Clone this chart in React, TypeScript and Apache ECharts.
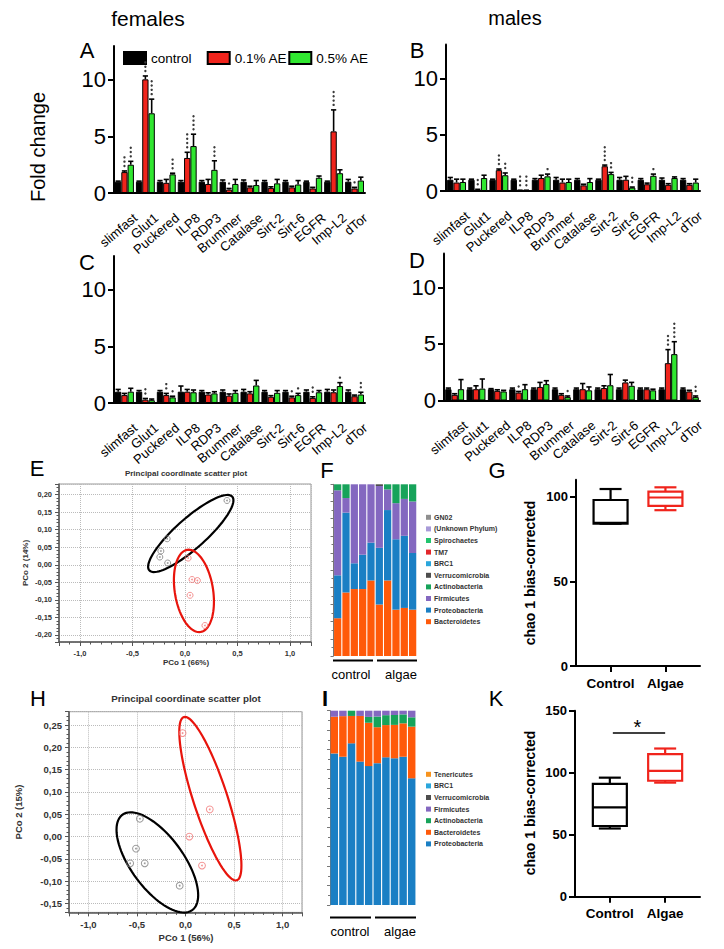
import React, { useEffect, useRef } from 'react';
import * as echarts from 'echarts';

const FONT = '"Liberation Sans", Arial, Helvetica, sans-serif';

// ---------- Panels A–D : fold change ----------
const genes = ['slimfast', 'Glut1', 'Puckered', 'ILP8', 'RDP3', 'Brummer', 'Catalase', 'Sirt-2', 'Sirt-6', 'EGFR', 'Imp-L2', 'dTor'];
const treatments = ['control', '0.1% AE', '0.5% AE'];
const foldTicks = [0, 5, 10];

// A: females, top
const aCtrl = [1, 1, 1, 1, 1, 1, 1, 1, 1, 1, 1, 1];
const aCtrlErr = [0.05, 0.05, 0.1, 0.1, 0.1, 0.15, 0.15, 0.1, 0.1, 0.05, 0.05, 0.2];
const aLow = [1.85, 10.05, 0.9, 3.1, 0.8, 0.3, 0.5, 0.45, 0.5, 0.4, 5.45, 0.4];
const aLowErr = [0.1, 0.3, 0.3, 0.5, 0.4, 0.1, 0.1, 0.1, 0.1, 0.1, 1.9, 0.1];
const aLowStars = [3, 3, 0, 4, 0, 1, 0, 0, 0, 0, 4, 1];
const aHigh = [2.5, 7.05, 1.65, 4.15, 2.05, 0.8, 0.7, 0.85, 0.75, 1.35, 1.75, 1.1];
const aHighErr = [0.3, 1.25, 0.1, 1.05, 0.8, 0.4, 0.4, 0.35, 0.35, 0.15, 0.3, 0.3];
const aHighStars = [3, 4, 3, 4, 3, 0, 0, 0, 0, 0, 0, 0];

// B: males, top
const bCtrl = [1, 1, 1, 1, 1, 1, 1, 1, 1, 1, 1, 1];
const bCtrlErr = [0.2, 0.05, 0.05, 0.05, 0.1, 0.2, 0.1, 0.05, 0.2, 0.1, 0.15, 0.1];
const bLow = [0.75, 0.1, 1.85, 0.05, 1.15, 0.75, 0.5, 2.2, 1.0, 0.6, 0.55, 0.55];
const bLowErr = [0.3, 0.05, 0.1, 0.02, 0.25, 0.3, 0.1, 0.1, 0.3, 0.1, 0.1, 0.1];
const bLowStars = [0, 2, 3, 3, 0, 0, 0, 4, 0, 0, 0, 0];
const bHigh = [0.8, 1.15, 1.4, 0.05, 1.3, 0.8, 0.8, 1.5, 0.3, 1.35, 1.15, 0.75];
const bHighErr = [0.25, 0.25, 0.2, 0.02, 0.2, 0.25, 0.3, 0.15, 0.05, 0.15, 0.1, 0.3];
const bHighStars = [0, 0, 2, 3, 1, 0, 0, 2, 2, 1, 0, 0];

// C: females, bottom
const cCtrl = [1, 1, 1, 1, 1, 1, 1, 1, 1, 1, 1, 1];
const cCtrlErr = [0.2, 0.1, 0.1, 0.5, 0.1, 0.15, 0.2, 0.1, 0.1, 0.15, 0.2, 0.15];
const cLow = [0.7, 0.3, 0.7, 1.0, 0.75, 0.65, 0.85, 0.55, 0.5, 0.45, 0.95, 0.6];
const cLowErr = [0.15, 0.1, 0.15, 0.2, 0.15, 0.15, 0.15, 0.1, 0.1, 0.1, 0.2, 0.1];
const cLowStars = [0, 2, 2, 0, 0, 0, 0, 0, 1, 2, 0, 0];
const cHigh = [1.0, 0.25, 0.5, 0.95, 0.85, 0.9, 1.55, 0.9, 0.7, 0.95, 1.5, 0.75];
const cHighErr = [0.3, 0.1, 0.1, 0.2, 0.15, 0.2, 0.45, 0.2, 0.15, 0.15, 0.3, 0.2];
const cHighStars = [0, 0, 1, 0, 0, 0, 0, 0, 1, 0, 1, 2];

// D: males, bottom
const dCtrl = [1, 1, 1, 1, 1, 1, 1, 1, 1, 1, 1, 1];
const dCtrlErr = [0.1, 0.1, 0.05, 0.1, 0.1, 0.1, 0.1, 0.1, 0.1, 0.1, 0.1, 0.1];
const dLow = [0.5, 1.0, 0.85, 0.7, 1.2, 0.5, 1.0, 1.1, 1.6, 1.0, 3.3, 0.8];
const dLowErr = [0.1, 0.3, 0.1, 0.1, 0.4, 0.1, 0.5, 0.2, 0.2, 0.1, 1.2, 0.1];
const dLowStars = [0, 0, 0, 1, 0, 0, 0, 0, 0, 0, 3, 0];
const dHigh = [1.0, 1.05, 0.8, 1.0, 1.45, 0.3, 0.9, 1.35, 1.3, 0.9, 4.1, 0.3];
const dHighErr = [0.85, 0.85, 0.1, 0.4, 0.3, 0.1, 0.3, 0.95, 0.3, 0.1, 1.1, 0.1];
const dHighStars = [0, 0, 0, 0, 0, 1, 0, 0, 0, 0, 4, 2];

// ---------- E / H : PCoA ----------
const eControl = [[0.4, 0.183], [-0.17, 0.074], [-0.23, 0.039], [-0.24, 0.022], [-0.165, 0.005]];
const eAlgae = [[0.03, 0.019], [0.067, -0.042], [0.118, -0.045], [0.048, -0.087], [0.19, -0.173]];
// ellipse: centre x, centre y, semi-axis 1 (dx, dy), semi-axis 2 (dx, dy)
const eControlEllipse = [0.055, 0.089, 0.395, 0.105, 0.095, -0.032];
const eAlgaeEllipse = [0.085, -0.0745, -0.063, 0.117, 0.18, 0.0085];

const hControl = [[-0.47, 0.04], [-0.51, -0.027], [-0.57, -0.06], [-0.42, -0.06], [-0.06, -0.11]];
const hAlgae = [[-0.03, 0.232], [0.25, 0.061], [0.04, 0.0], [0.17, -0.065]];
const hControlEllipse = [-0.29, -0.058, 0.37, -0.105, 0.2, 0.04];
const hAlgaeEllipse = [0.256, 0.085, -0.273, 0.183, 0.167, 0.0119];

// ---------- F / I : relative abundance (%) ----------
const samples = ['C1', 'C2', 'C3', 'C4', 'C5', 'A1', 'A2', 'A3', 'A4', 'A5'];
const fBacteroidetes = [22, 37, 39, 39, 44, 30, 44, 27, 28, 27];
const fProteobacteria = [25, 46.5, 15, 20, 22, 33, 41, 41, 42, 33];
const fFirmicutes = [49.5, 8.5, 46, 41, 34, 36, 12, 21, 21.5, 30];
const fActinobacteria = [3.5, 8, 0, 0, 0, 0, 3, 11, 8.5, 10];
const fVerrucomicrobia = [0, 0, 0, 0, 0, 1, 0, 0, 0, 0];
const fBRC1 = [0, 0, 0, 0, 0, 0, 0, 0, 0, 0];
const fTM7 = [0, 0, 0, 0, 0, 0, 0, 0, 0, 0];
const fSpirochaetes = [0, 0, 0, 0, 0, 0, 0, 0, 0, 0];
const fUnknown = [0, 0, 0, 0, 0, 0, 0, 0, 0, 0];
const fGN02 = [0, 0, 0, 0, 0, 0, 0, 0, 0, 0];

const iProteobacteria = [78, 76.3, 83.2, 73.8, 71.5, 73, 76, 75.5, 76.3, 65.2];
const iBacteroidetes = [18.9, 20.9, 14.1, 23.5, 22.3, 18.5, 16.6, 17.2, 17.2, 26.6];
const iActinobacteria = [0, 0, 2.7, 0, 3, 5.5, 5.1, 5.1, 4.6, 4.8];
const iFirmicutes = [3.1, 2.8, 0, 2.7, 3.2, 3, 2.3, 2.2, 1.9, 3.4];
const iVerrucomicrobia = [0, 0, 0, 0, 0, 0, 0, 0, 0, 0];
const iBRC1 = [0, 0, 0, 0, 0, 0, 0, 0, 0, 0];
const iTenericutes = [0, 0, 0, 0, 0, 0, 0, 0, 0, 0];

// ---------- G / K : chao1 box plots [min, Q1, median, Q3, max] ----------
const boxGroups = ['Control', 'Algae'];
const gControl = [84, 84, 84.5, 98, 104.5];
const gAlgae = [92, 94.5, 99.5, 103, 105.5];
const kControl = [55, 57, 72, 91, 96];
const kAlgae = [92, 93.5, 101.5, 115, 119.5];
const gTicks = [0, 50, 100];
const kTicks = [0, 50, 100, 150];
const kSignificance = [[0, 1, 132]];

const RED = '#f0241c';
const GREEN = '#30e630';
const COL: Record<string, string> = {
  Bacteroidetes: '#ff5a0a',
  Proteobacteria: '#1a7fc4',
  Firmicutes: '#8468c0',
  Actinobacteria: '#17a35a',
  Verrucomicrobia: '#4d4d4d',
  BRC1: '#2aa6dc',
  TM7: '#e3262b',
  Spirochaetes: '#22c46e',
  '(Unknown Phylum)': '#a89ad8',
  GN02: '#8f8f8f',
  Tenericutes: '#f7931e',
};

const BW = 6.3;

function errSeries(g: number, means: number[], errs: number[], stars: number[], k: number) {
  return {
    type: 'custom', xAxisIndex: g, yAxisIndex: g, z: 5, silent: true, clip: false,
    encode: { x: 0, y: 1 },
    data: means.map((m, i) => [i, m, errs[i], stars[i]]),
    renderItem: (_p: any, api: any) => {
      const i = api.value(0), m = api.value(1), e = api.value(2), s = api.value(3);
      const p0 = api.coord([i, m]);
      const p1 = api.coord([i, m + e]);
      const x = p0[0] + (k - 1) * BW;
      const ch: any[] = [
        { type: 'line', shape: { x1: x, y1: p0[1], x2: x, y2: p1[1] }, style: { stroke: '#000', lineWidth: 1.6 } },
        { type: 'line', shape: { x1: x - 2.6, y1: p1[1], x2: x + 2.6, y2: p1[1] }, style: { stroke: '#000', lineWidth: 1.6 } },
      ];
      for (let j = 0; j < s; j++) {
        ch.push({ type: 'circle', shape: { cx: x, cy: p1[1] - 5 - j * 4.3, r: 1.2 }, style: { fill: '#3a3a3a' } });
      }
      return { type: 'group', children: ch };
    },
  };
}

function geneLabelSeries(g: number) {
  return {
    type: 'custom', xAxisIndex: g, yAxisIndex: g, z: 5, silent: true, clip: false,
    encode: { x: 0, y: 1 },
    data: genes.map((_n, i) => [i, 0]),
    renderItem: (p: any, api: any) => {
      const pt = api.coord([api.value(0), 0]);
      return {
        type: 'text', x: pt[0] + 11, y: pt[1] + 23, rotation: (40 * Math.PI) / 180,
        style: { text: genes[p.dataIndex], fontSize: 13, fontFamily: FONT, fill: '#000', align: 'right', verticalAlign: 'middle', textAlign: 'right', textVerticalAlign: 'middle' },
      };
    },
  };
}

function foldPanel(g: number, ctrl: number[], ctrlErr: number[], low: number[], lowErr: number[], lowStars: number[], high: number[], highErr: number[], highStars: number[]) {
  const zeros = genes.map(() => 0);
  const cols = ['#000', RED, GREEN];
  const means = [ctrl, low, high];
  const errs = [ctrlErr, lowErr, highErr];
  const stars = [zeros, lowStars, highStars];
  const out: any[] = [];
  for (let k = 0; k < 3; k++) {
    out.push({
      type: 'bar', name: treatments[k], xAxisIndex: g, yAxisIndex: g, data: means[k], barWidth: BW, barGap: '0%', z: 2,
      itemStyle: { color: cols[k], borderColor: '#000', borderWidth: 1 },
    });
  }
  for (let k = 0; k < 3; k++) out.push(errSeries(g, means[k], errs[k], stars[k], k));
  out.push(geneLabelSeries(g));
  return out;
}

function ellipseSeries(g: number, el: number[], color: string) {
  return {
    type: 'custom', xAxisIndex: g, yAxisIndex: g, z: 4, silent: true, clip: false,
    encode: { x: 0, y: 1 },
    data: [el],
    renderItem: (_p: any, api: any) => {
      const cx = api.value(0), cy = api.value(1);
      const ax = api.value(2), ay = api.value(3), bx = api.value(4), by = api.value(5);
      const c = api.coord([cx, cy]);
      const pa = api.coord([cx + ax, cy + ay]);
      const pb = api.coord([cx + bx, cy + by]);
      const va = [pa[0] - c[0], pa[1] - c[1]];
      const vb = [pb[0] - c[0], pb[1] - c[1]];
      const pts: number[][] = [];
      for (let j = 0; j <= 90; j++) {
        const t = (j / 90) * Math.PI * 2;
        pts.push([c[0] + va[0] * Math.cos(t) + vb[0] * Math.sin(t), c[1] + va[1] * Math.cos(t) + vb[1] * Math.sin(t)]);
      }
      return { type: 'polygon', shape: { points: pts }, style: { fill: 'none', stroke: color, lineWidth: 2.2 } };
    },
  };
}

function pointSeries(g: number, pts: number[][], color: string, size: number) {
  return [
    { type: 'scatter', xAxisIndex: g, yAxisIndex: g, data: pts, symbol: 'circle', symbolSize: size, z: 5, silent: true,
      itemStyle: { color: 'rgba(255,255,255,0)', borderColor: color, borderWidth: 1 } },
    { type: 'scatter', xAxisIndex: g, yAxisIndex: g, data: pts, symbol: 'circle', symbolSize: 1.8, z: 6, silent: true,
      itemStyle: { color } },
  ];
}

function boxSeries(g: number, x: number, vals: number[], color: string) {
  return {
    type: 'custom', xAxisIndex: g, yAxisIndex: g, z: 4, silent: true, clip: false,
    encode: { x: 0, y: 3 },
    data: [[x, ...vals]],
    renderItem: (_p: any, api: any) => {
      const xv = api.value(0);
      const c = (v: number) => api.coord([xv, v]);
      const pmin = c(api.value(1)), pq1 = c(api.value(2)), pmed = c(api.value(3)), pq3 = c(api.value(4)), pmax = c(api.value(5));
      const cx = pmin[0], hw = 17, cw = 11;
      const st = { stroke: color, lineWidth: 2.2, fill: 'none' };
      return {
        type: 'group', children: [
          { type: 'rect', shape: { x: cx - hw, y: pq3[1], width: hw * 2, height: pq1[1] - pq3[1] }, style: st },
          { type: 'line', shape: { x1: cx - hw, y1: pmed[1], x2: cx + hw, y2: pmed[1] }, style: st },
          { type: 'line', shape: { x1: cx, y1: pq3[1], x2: cx, y2: pmax[1] }, style: st },
          { type: 'line', shape: { x1: cx, y1: pq1[1], x2: cx, y2: pmin[1] }, style: st },
          { type: 'line', shape: { x1: cx - cw, y1: pmax[1], x2: cx + cw, y2: pmax[1] }, style: st },
          { type: 'line', shape: { x1: cx - cw, y1: pmin[1], x2: cx + cw, y2: pmin[1] }, style: st },
        ],
      };
    },
  };
}

function foldAxes(g: number) {
  return {
    x: {
      type: 'category', gridIndex: g, data: genes,
      axisLine: { lineStyle: { color: '#000', width: 2 } },
      axisTick: { alignWithLabel: true, length: 5, lineStyle: { color: '#000', width: 1.6 } },
      axisLabel: { show: false },
    },
    y: {
      type: 'value', gridIndex: g, min: 0, max: 13,
      axisLine: { show: true, lineStyle: { color: '#000', width: 2 } },
      axisTick: { show: true, length: 6, customValues: foldTicks, lineStyle: { color: '#000', width: 2 } },
      axisLabel: { customValues: foldTicks, fontSize: 22, color: '#000', margin: 8, fontFamily: FONT },
      splitLine: { show: false },
    },
  };
}

const comma = (d: number) => (v: number) => v.toFixed(d).replace('.', ',');

function pcoAxes(g: number, yMin: number, yMax: number, fs: number) {
  return {
    x: {
      type: 'value', gridIndex: g, min: -1.2, max: 1.2, minInterval: 0.5, maxInterval: 0.5,
      axisLine: { show: true, onZero: false, lineStyle: { color: '#555', width: 1.5 } },
      axisTick: { show: true, length: 4, lineStyle: { color: '#555' } },
      minorTick: { show: true, splitNumber: 5, length: 2.5, lineStyle: { color: '#555' } },
      axisLabel: { formatter: comma(1), fontSize: fs, fontWeight: 'bold', color: '#333', showMinLabel: false, showMaxLabel: false, margin: 7, fontFamily: FONT },
      splitLine: { show: true, lineStyle: { type: 'dotted', color: '#bbb' } },
    },
    y: {
      type: 'value', gridIndex: g, min: yMin, max: yMax, minInterval: 0.05, maxInterval: 0.05,
      axisLine: { show: true, onZero: false, lineStyle: { color: '#555', width: 1.5 } },
      axisTick: { show: true, length: 4, lineStyle: { color: '#555' } },
      minorTick: { show: true, splitNumber: 5, length: 2.5, lineStyle: { color: '#555' } },
      axisLabel: { formatter: comma(2), fontSize: fs, fontWeight: 'bold', color: '#333', showMinLabel: false, showMaxLabel: false, margin: 7, fontFamily: FONT },
      splitLine: { show: true, lineStyle: { type: 'dotted', color: '#bbb' } },
    },
  };
}

function stackAxes(g: number) {
  return {
    x: { type: 'category', gridIndex: g, data: samples, axisLine: { show: false }, axisTick: { show: false }, axisLabel: { show: false } },
    y: {
      type: 'value', gridIndex: g, min: 0, max: 100, interval: 10,
      axisLine: { show: true, lineStyle: { color: '#777', width: 1 } },
      axisTick: { show: true, length: 3, lineStyle: { color: '#777' } },
      minorTick: { show: true, splitNumber: 2, length: 2, lineStyle: { color: '#777' } },
      axisLabel: { show: false }, splitLine: { show: false },
    },
  };
}

function stackSeries(g: number, stack: string, layers: [string, number[]][]) {
  return layers.map(([name, vals]) => ({
    type: 'bar', name, stack, xAxisIndex: g, yAxisIndex: g, data: vals, barCategoryGap: '13%', silent: true,
    itemStyle: { color: COL[name] },
  }));
}

function boxAxes(g: number, max: number, ticks: number[]) {
  return {
    x: {
      type: 'value', gridIndex: g, min: -0.63, max: 1.63,
      axisLine: { show: true, onZero: false, lineStyle: { color: '#000', width: 2 } },
      axisTick: { show: true, customValues: [0, 1], length: 6, lineStyle: { color: '#000', width: 2 } },
      axisLabel: { customValues: [0, 1], formatter: (v: number) => boxGroups[Math.round(v)], fontSize: 13.5, fontWeight: 'bold', color: '#000', margin: 10, fontFamily: FONT },
      splitLine: { show: false },
    },
    y: {
      type: 'value', gridIndex: g, min: 0, max,
      axisLine: { show: true, onZero: false, lineStyle: { color: '#000', width: 2 } },
      axisTick: { show: true, customValues: ticks, length: 6, lineStyle: { color: '#000', width: 2 } },
      axisLabel: { customValues: ticks, fontSize: 13, fontWeight: 'bold', color: '#000', margin: 8, fontFamily: FONT },
      splitLine: { show: false },
    },
  };
}

const T = (text: string, x: number, y: number, size: number, extra: any = {}, rotation = 0) => ({
  type: 'text', x, y, rotation, silent: true,
  style: { text, fontSize: size, fontFamily: FONT, fill: '#000', align: 'center', verticalAlign: 'middle', textAlign: 'center', textVerticalAlign: 'middle', ...extra },
});
const L = (x1: number, y1: number, x2: number, y2: number, w = 2) => ({
  type: 'line', silent: true, shape: { x1, y1, x2, y2 }, style: { stroke: '#000', lineWidth: w },
});

export default function App() {
  const ref = useRef<HTMLDivElement>(null);
  useEffect(() => {
    if (!ref.current) return;
    const chart = echarts.init(ref.current, undefined, { renderer: 'svg' });

    const grids = [
      { left: 114, top: 46, width: 251, height: 147 },      // 0 A
      { left: 446, top: 44.5, width: 254, height: 146.5 },  // 1 B
      { left: 114, top: 256, width: 251, height: 147 },     // 2 C
      { left: 444, top: 253.5, width: 256, height: 147 },   // 3 D
      { left: 59, top: 484, width: 252, height: 158, show: true, borderColor: '#999', borderWidth: 1, backgroundColor: 'transparent' }, // 4 E
      { left: 333.5, top: 484.3, width: 83.3, height: 171.7 }, // 5 F
      { left: 576, top: 479.7, width: 124, height: 186.3 },    // 6 G
      { left: 69, top: 711.7, width: 233, height: 200.7, show: true, borderColor: '#999', borderWidth: 1, backgroundColor: 'transparent' }, // 7 H
      { left: 330, top: 710.7, width: 86, height: 194.3 },     // 8 I
      { left: 575, top: 710.7, width: 125, height: 186 },      // 9 K
    ];

    const fa = [0, 1, 2, 3].map(foldAxes);
    const pe = pcoAxes(4, -0.22, 0.23, 7.5);
    const ph = pcoAxes(7, -0.17, 0.28, 9.5);
    const sf = stackAxes(5);
    const si = stackAxes(8);
    const bg = boxAxes(6, 110, gTicks);
    const bk = boxAxes(9, 150, kTicks);

    const xAxis = [fa[0].x, fa[1].x, fa[2].x, fa[3].x, pe.x, sf.x, bg.x, ph.x, si.x, bk.x];
    const yAxis = [fa[0].y, fa[1].y, fa[2].y, fa[3].y, pe.y, sf.y, bg.y, ph.y, si.y, bk.y];

    const fLayers: [string, number[]][] = [
      ['Bacteroidetes', fBacteroidetes], ['Proteobacteria', fProteobacteria], ['Firmicutes', fFirmicutes],
      ['Actinobacteria', fActinobacteria], ['Verrucomicrobia', fVerrucomicrobia], ['BRC1', fBRC1], ['TM7', fTM7],
      ['Spirochaetes', fSpirochaetes], ['(Unknown Phylum)', fUnknown], ['GN02', fGN02],
    ];
    const iLayers: [string, number[]][] = [
      ['Proteobacteria', iProteobacteria], ['Bacteroidetes', iBacteroidetes], ['Actinobacteria', iActinobacteria],
      ['Firmicutes', iFirmicutes], ['Verrucomicrobia', iVerrucomicrobia], ['BRC1', iBRC1], ['Tenericutes', iTenericutes],
    ];

    const sigSeries = {
      type: 'custom', xAxisIndex: 9, yAxisIndex: 9, z: 4, silent: true, clip: false,
      encode: { x: 0, y: 2 },
      data: kSignificance,
      renderItem: (_p: any, api: any) => {
        const a = api.coord([api.value(0), api.value(2)]);
        const b = api.coord([api.value(1), api.value(2)]);
        return {
          type: 'group', children: [
            { type: 'line', shape: { x1: a[0] + 3, y1: a[1], x2: b[0], y2: b[1] }, style: { stroke: '#000', lineWidth: 1.5 } },
            { type: 'text', x: (a[0] + b[0]) / 2, y: a[1] + 4, style: { text: '*', fontSize: 20, fontFamily: FONT, fill: '#000', align: 'center', verticalAlign: 'bottom', textAlign: 'center', textVerticalAlign: 'bottom' } },
          ],
        };
      },
    };

    const series: any[] = [
      ...foldPanel(0, aCtrl, aCtrlErr, aLow, aLowErr, aLowStars, aHigh, aHighErr, aHighStars),
      ...foldPanel(1, bCtrl, bCtrlErr, bLow, bLowErr, bLowStars, bHigh, bHighErr, bHighStars),
      ...foldPanel(2, cCtrl, cCtrlErr, cLow, cLowErr, cLowStars, cHigh, cHighErr, cHighStars),
      ...foldPanel(3, dCtrl, dCtrlErr, dLow, dLowErr, dLowStars, dHigh, dHighErr, dHighStars),
      ellipseSeries(4, eControlEllipse, '#000'),
      ellipseSeries(4, eAlgaeEllipse, '#e8140c'),
      ...pointSeries(4, eControl, '#808080', 6),
      ...pointSeries(4, eAlgae, '#f07878', 6),
      ellipseSeries(7, hControlEllipse, '#000'),
      ellipseSeries(7, hAlgaeEllipse, '#e8140c'),
      ...pointSeries(7, hControl, '#808080', 6.8),
      ...pointSeries(7, hAlgae, '#f07878', 6.8),
      ...stackSeries(5, 'F', fLayers),
      ...stackSeries(8, 'I', iLayers),
      boxSeries(6, 0, gControl, '#000'),
      boxSeries(6, 1, gAlgae, '#f0241c'),
      boxSeries(9, 0, kControl, '#000'),
      boxSeries(9, 1, kAlgae, '#f0241c'),
      sigSeries,
    ];

    const smallLegend = (names: string[], top: number) => ({
      orient: 'vertical', left: 426, top, itemWidth: 5, itemHeight: 5, itemGap: 0, icon: 'rect',
      selectedMode: false, padding: 0, data: names,
      textStyle: { fontSize: 7, fontWeight: 'bold', color: '#333', fontFamily: FONT, lineHeight: 11.6, padding: [0, 0, 0, -2] },
    });
    const topLegend = (name: string, left: number) => ({
      left, top: 51, itemWidth: 22, itemHeight: 12, itemGap: 0, icon: 'rect', selectedMode: false, padding: 0,
      data: [name], textStyle: { fontSize: 13.5, color: '#000', fontFamily: FONT },
    });

    const graphic: any[] = [
      T('females', 148, 18, 21),
      T('males', 515, 18, 20),
      T('Fold change', 38, 147, 20, {}, Math.PI / 2),
      T('A', 87, 50, 22), T('B', 417, 50, 22), T('C', 87, 262, 22), T('D', 417, 260, 22),
      T('E', 37, 468, 22), T('F', 327, 470, 22), T('G', 497, 470, 22),
      T('H', 38, 698, 22), T('I', 325, 698, 22, { fontWeight: 'bold' }), T('K', 496, 698, 22),
      T('Principal coordinate scatter plot', 186, 473, 8, { fontWeight: 'bold', fill: '#333' }),
      T('PCo 1 (66%)', 186, 662, 8, { fontWeight: 'bold', fill: '#333' }),
      T('PCo 2 (14%)', 25, 563, 8, { fontWeight: 'bold', fill: '#333' }, Math.PI / 2),
      T('Principal coordinate scatter plot', 186, 698, 9.8, { fontWeight: 'bold', fill: '#333' }),
      T('PCo 1 (56%)', 186, 937, 9.5, { fontWeight: 'bold', fill: '#333' }),
      T('PCo 2 (15%)', 18, 812, 9.5, { fontWeight: 'bold', fill: '#333' }, Math.PI / 2),
      L(333, 660.5, 373, 660.5), L(377, 660.5, 417, 660.5),
      T('control', 351, 674, 13), T('algae', 401, 674, 13),
      L(330, 917.5, 371, 917.5), L(375, 917.5, 416, 917.5),
      T('control', 350, 931, 13), T('algae', 400, 931, 13),
      T('chao 1 bias-corrected', 530, 573, 14, { fontWeight: 'bold' }, Math.PI / 2),
      T('chao 1 bias-corrected', 530, 803, 14, { fontWeight: 'bold' }, Math.PI / 2),
    ];

    chart.setOption({
      animation: false,
      backgroundColor: '#fff',
      textStyle: { fontFamily: FONT },
      grid: grids,
      xAxis,
      yAxis,
      legend: [
        topLegend(treatments[0], 123),
        topLegend(treatments[1], 206.7),
        topLegend(treatments[2], 288.3),
        smallLegend(['GN02', '(Unknown Phylum)', 'Spirochaetes', 'TM7', 'BRC1', 'Verrucomicrobia', 'Actinobacteria', 'Firmicutes', 'Proteobacteria', 'Bacteroidetes'], 511.5),
        smallLegend(['Tenericutes', 'BRC1', 'Verrucomicrobia', 'Firmicutes', 'Actinobacteria', 'Bacteroidetes', 'Proteobacteria'], 768.5),
      ],
      series,
      graphic,
    });
    return () => chart.dispose();
  }, []);
  return <div ref={ref} style={{ position: 'absolute', left: 0, top: 0, width: 724, height: 949, background: '#fff' }} />;
}
